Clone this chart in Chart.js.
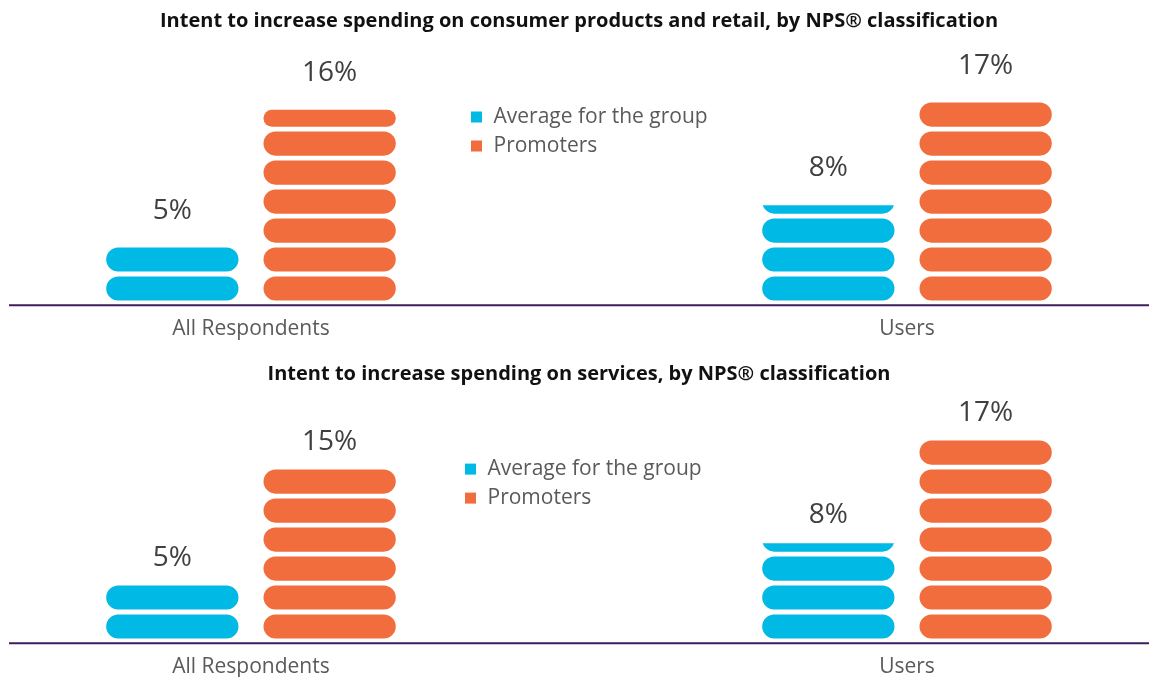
<!DOCTYPE html>
<html>
<head>
<meta charset="utf-8">
<script src="https://cdn.jsdelivr.net/npm/chart.js@4.4.1/dist/chart.umd.min.js"></script>
<style>
  html, body { margin: 0; padding: 0; background: #ffffff; width: 1149px; height: 677px; overflow: hidden; position: relative; }
  /* the category band of each panel is wider than the page, so the canvas starts left of it */
  .panel { position: absolute; left: -77px; width: 1312px; height: 354px; }
  #retail { top: 0; }
  #services { top: 338px; }
</style>
</head>
<body>
<div class="panel" id="retail"><canvas id="retailChart"></canvas></div>
<div class="panel" id="services"><canvas id="servicesChart"></canvas></div>
<script>
// Intent to increase spending, % of respondents, by NPS classification
const CATEGORIES = ['All Respondents', 'Users'];
const SERIES_NAMES = ['Average for the group', 'Promoters'];
const RETAIL_AVERAGE = [5, 8];
const RETAIL_PROMOTERS = [16, 17];
const SERVICES_AVERAGE = [5, 8];
const SERVICES_PROMOTERS = [15, 17];
const RETAIL_TITLE = 'Intent to increase spending on consumer products and retail, by NPS\u00AE classification';
const SERVICES_TITLE = 'Intent to increase spending on services, by NPS\u00AE classification';

// Each pill in a stack stands for this many percentage points
const PILL_STEP = 2.43;
const MIN_PARTIAL = 0.5;

const COLORS = ['#00b9e5', '#f26d3d'];
const AXIS_COLOR = '#3d1d5c';
const FONT = "'Open Sans', 'DejaVu Sans', sans-serif";

function pillPath(ctx, x, y, w, h) {
  const r = Math.min(h / 2, w / 2);
  ctx.beginPath();
  ctx.moveTo(x + r, y);
  ctx.lineTo(x + w - r, y);
  ctx.arc(x + w - r, y + r, r, -Math.PI / 2, Math.PI / 2);
  ctx.lineTo(x + r, y + h);
  ctx.arc(x + r, y + r, r, Math.PI / 2, Math.PI * 1.5);
  ctx.closePath();
}

// Baseline running across the panel at the bottom of the value axis
const baseline = {
  id: 'baseline',
  beforeDatasetsDraw(chart, args, opts) {
    const ctx = chart.ctx;
    const y = chart.chartArea.bottom + opts.width / 2;
    ctx.save();
    ctx.strokeStyle = opts.color;
    ctx.lineWidth = opts.width;
    ctx.beginPath();
    ctx.moveTo(opts.left, y);
    ctx.lineTo(chart.width, y);
    ctx.stroke();
    ctx.restore();
  }
};

// Draws every bar as a stack of rounded pills and puts its value above it
const pillBars = {
  id: 'pillBars',
  beforeDatasetDraw() { return false; },
  afterDatasetsDraw(chart, args, opts) {
    const ctx = chart.ctx;
    const yScale = chart.scales.y;
    const pitch = Math.abs(yScale.getPixelForValue(PILL_STEP) - yScale.getPixelForValue(0));
    const pillH = pitch * opts.fill;
    chart.data.datasets.forEach((ds, di) => {
      if (!chart.isDatasetVisible(di)) return;
      const meta = chart.getDatasetMeta(di);
      meta.data.forEach((bar, i) => {
        const p = bar.getProps(['x', 'y', 'base', 'width'], true);
        const value = ds.data[i];
        const left = p.x - p.width / 2;
        const w = p.width;
        const full = Math.floor(value / PILL_STEP + 1e-9);
        const remValue = value - full * PILL_STEP;
        const rem = Math.abs(yScale.getPixelForValue(value) - yScale.getPixelForValue(full * PILL_STEP));
        ctx.save();
        ctx.fillStyle = ds.backgroundColor;
        let visibleTop = p.base;
        for (let k = 0; k < full; k++) {
          const top = p.base - k * pitch - pillH;
          pillPath(ctx, left, top, w, pillH);
          ctx.fill();
          visibleTop = top;
        }
        const slotBottom = p.base - full * pitch;
        if (remValue >= MIN_PARTIAL) {
          if (rem >= pillH) {
            pillPath(ctx, left, slotBottom - pillH, w, pillH);
            ctx.fill();
            visibleTop = slotBottom - pillH;
          } else if (rem >= pillH / 2) {
            pillPath(ctx, left, slotBottom - rem, w, rem);
            ctx.fill();
            visibleTop = slotBottom - rem;
          } else {
            ctx.save();
            ctx.beginPath();
            ctx.rect(left - 1, slotBottom - rem, w + 2, rem + 1);
            ctx.clip();
            pillPath(ctx, left, slotBottom - pillH, w, pillH);
            ctx.fill();
            ctx.restore();
            visibleTop = slotBottom - rem;
          }
        }
        ctx.fillStyle = opts.labelColor;
        ctx.font = opts.labelFont;
        ctx.textAlign = 'center';
        ctx.textBaseline = 'alphabetic';
        ctx.fillText(value + '%', p.x, visibleTop - opts.labelOffset);
        ctx.restore();
      });
    });
  }
};

// Two-row legend placed between the category groups
const inlineLegend = {
  id: 'inlineLegend',
  afterDraw(chart, args, opts) {
    const ctx = chart.ctx;
    ctx.save();
    ctx.font = opts.font;
    ctx.textAlign = 'left';
    ctx.textBaseline = 'alphabetic';
    chart.data.datasets.forEach((ds, di) => {
      const base = opts.y + di * opts.rowGap;
      ctx.fillStyle = ds.backgroundColor;
      ctx.fillRect(opts.x, base - opts.box, opts.box, opts.box);
      ctx.fillStyle = opts.color;
      ctx.fillText(ds.label, opts.x + opts.textGap, base);
    });
    ctx.restore();
  }
};

function makeChart(canvasId, title, average, promoters, layout) {
  const series = [average, promoters];
  return new Chart(document.getElementById(canvasId), {
    type: 'bar',
    data: {
      labels: CATEGORIES,
      datasets: series.map((vals, si) => ({
        label: SERIES_NAMES[si],
        data: vals,
        backgroundColor: COLORS[si],
        categoryPercentage: 0.4796,
        barPercentage: 0.841
      }))
    },
    options: {
      responsive: true,
      maintainAspectRatio: false,
      animation: false,
      events: [],
      layout: { padding: 0 },
      scales: {
        x: {
          offset: true,
          grid: { display: false, drawTicks: false },
          border: { display: false },
          ticks: {
            padding: 12.3,
            maxRotation: 0,
            autoSkip: false,
            color: '#5a5a5a',
            font: { family: FONT, size: 21 }
          }
        },
        y: {
          display: false,
          min: -0.3,
          max: 20.5
        }
      },
      plugins: {
        legend: { display: false },
        tooltip: { enabled: false },
        title: {
          display: true,
          text: title,
          color: '#111111',
          font: { family: FONT, size: 20, weight: 'bold' },
          padding: { top: layout.titleTop, bottom: layout.titleBottom }
        },
        baseline: { left: 86, width: 2, color: AXIS_COLOR },
        pillBars: {
          fill: 0.83,
          labelColor: '#404040',
          labelFont: '28px ' + FONT,
          labelOffset: layout.labelOffset
        },
        inlineLegend: {
          x: layout.legendX,
          y: layout.legendY,
          rowGap: 29,
          box: 11,
          textGap: 22.5,
          color: '#5a5a5a',
          font: '21px ' + FONT
        }
      }
    },
    plugins: [baseline, pillBars, inlineLegend]
  });
}

makeChart('retailChart', RETAIL_TITLE, RETAIL_AVERAGE, RETAIL_PROMOTERS,
  { titleTop: 9, titleBottom: 23, labelOffset: 29, legendX: 548, legendY: 122.5 });
makeChart('servicesChart', SERVICES_TITLE, SERVICES_AVERAGE, SERVICES_PROMOTERS,
  { titleTop: 24.5, titleBottom: 7.5, labelOffset: 20, legendX: 542, legendY: 136.6 });
</script>
</body>
</html>
